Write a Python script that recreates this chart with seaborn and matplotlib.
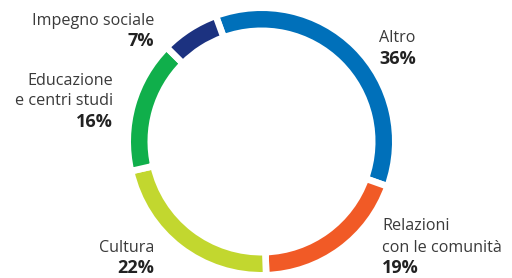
import matplotlib
matplotlib.use("Agg")
import matplotlib.pyplot as plt
import seaborn as sns

# ---- data ----
categories = ["Altro", "Relazioni\ncon le comunità", "Cultura", "Educazione\ne centri studi", "Impegno sociale"]
values = [36, 19, 22, 16, 7]
colors = ["#0070BA", "#F15A26", "#C2D72F", "#10AF4B", "#1C3280"]

sns.set_theme(style="white")
plt.rcParams["font.family"] = ["Open Sans", "DejaVu Sans"]

W, H = 512, 278
fig = plt.figure(figsize=(W / 100, H / 100), dpi=100)
ax = fig.add_axes([0, 0, 1, 1])

cx, cy = 261.5, H - 141.5
R_out, ring = 130.5, 16.5
lw = 4.8  # pt, white gap
pad = lw * 100 / 72 / 2
ax.pie(values, colors=colors, startangle=110, counterclock=False,
       radius=R_out + pad, center=(cx, cy),
       wedgeprops=dict(width=ring + 2 * pad, edgecolor="white", linewidth=lw))
ax.set_xlim(0, W)
ax.set_ylim(0, H)
ax.set_aspect("equal")
ax.axis("off")

# label layout: (x, ha, [baselines of text lines], baseline of pct)
layout = [
    (379, "left", [42], 64),
    (382, "left", [230, 252], 273),
    (154, "right", [252], 273),
    (113, "right", [85, 105], 127),
    (154, "right", [25], 46),
]
fs, fsp = 11.6, 13
for cat, val, (x, ha, bls, pbl) in zip(categories, values, layout):
    for line, bl in zip(cat.split("\n"), bls):
        ax.text(x, H - bl, line, ha=ha, va="baseline", fontsize=fs, color="#3a3a3a")
    ax.text(x, H - pbl, f"{val}%", ha=ha, va="baseline", fontsize=fsp,
            fontweight="bold", color="#222222")

fig.savefig("out.png", dpi=100)
